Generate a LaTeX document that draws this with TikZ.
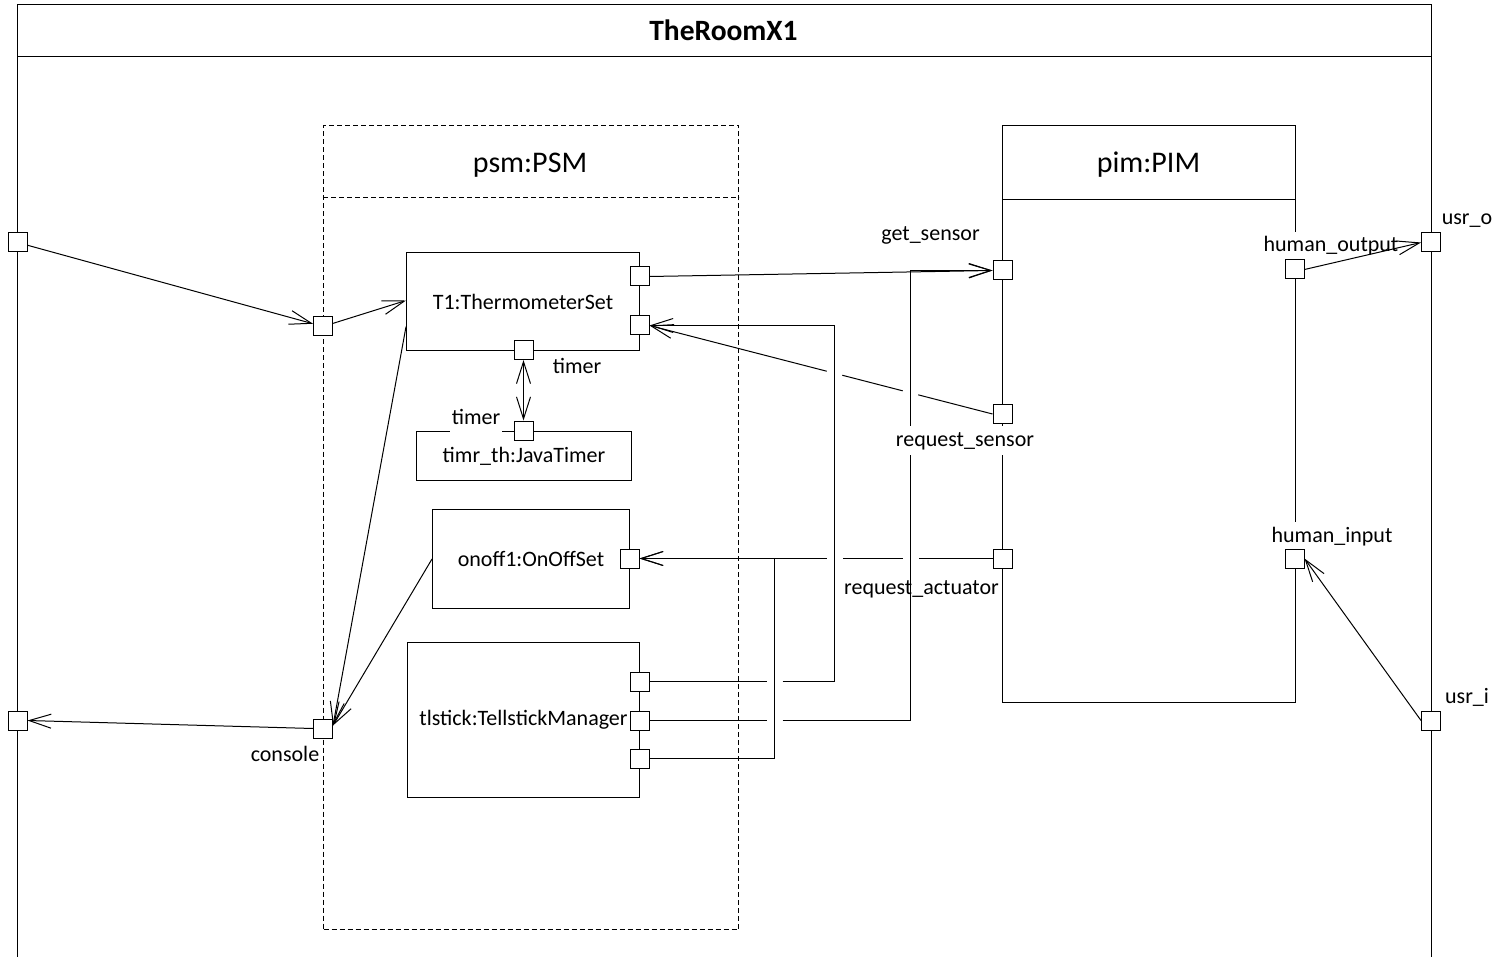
\documentclass[tikz,border=0pt]{standalone}
\usepackage{fontspec}
\setmainfont{Carlito}
\usetikzlibrary{arrows.meta,calc,intersections}

\tikzset{
  opentip/.tip={Straight Barb[length=22pt,width=14pt]},
  conn/.style={-opentip},
  dconn/.style={opentip-opentip},
  part/.style={draw, fill=white, inner sep=0pt, anchor=north west, font=\fontsize{22}{26}\selectfont},
  port/.style={draw, fill=white, inner sep=0pt, minimum size=19pt},
  lbl/.style={anchor=base, inner sep=0pt, font=\fontsize{22}{26}\selectfont},
  cover/.style={lbl, fill=white, inner xsep=1.5pt, inner ysep=2pt, text height=18pt, text depth=7pt},
  title/.style={anchor=base, inner sep=0pt, font=\fontsize{30}{34}\selectfont},
  psmline/.style={dash pattern=on 5pt off 3pt, line width=1pt},
}

\begin{document}
\begin{tikzpicture}[x=1pt, y=-1pt, line width=1pt]
\useasboundingbox (0,0) rectangle (1493,957);
\clip (0,0) rectangle (1493,957);

% enclosing component
\node[draw, inner sep=0pt, anchor=north west, minimum width=1414pt, minimum height=1000pt] (room) at (17,4) {};
\draw ($(room.north west)+(0,53)$) -- ($(room.north east)+(0,53)$);
\node[anchor=base, inner sep=0pt, font=\fontsize{29.5}{34}\selectfont\bfseries] (roomtitle) at (723.5,41) {TheRoomX1};

% platform specific part (dashed)
\node[draw, psmline, inner sep=0pt, anchor=north west, minimum width=415pt, minimum height=804pt] (psm) at (323,125) {};
\draw[psmline] ($(psm.north west)+(0,73)$) -- ($(psm.north east)+(0,73)$);
\node[title] (psmtitle) at (530,173) {psm:PSM};

% platform independent part
\node[draw, inner sep=0pt, anchor=north west, minimum width=293pt, minimum height=577pt] (pim) at (1002,125) {};
\draw ($(pim.north west)+(0,75)$) -- ($(pim.north east)+(0,75)$);
\node[title] (pimtitle) at (1148.5,173) {pim:PIM};

% inner parts
\node[part, minimum width=233pt, minimum height=98pt] (t1) at (406,252) {T1:ThermometerSet};
\node[part, minimum width=215pt, minimum height=49pt] (jt) at (416,431) {timr\_th:JavaTimer};
\node[part, minimum width=197pt, minimum height=99pt] (onoff) at (432,509) {onoff1:OnOffSet};
\node[part, minimum width=232pt, minimum height=155pt] (tl) at (407,642) {tlstick:TellstickManager};

% labels that hide the borders behind them
\node[cover] (lho) at (1331,252) {human\_output};
\node[cover] (lhi) at (1332,542) {human\_input};
\node[cover] (ltj) at (476,424) {timer};

% ports
\node[port] (op1) at (17.5,242.5) {};
\node[port] (op2) at (17.5,720.5) {};
\node[port] (pp1) at (323,326.5) {};
\node[port] (pcon) at (323,728.5) {};
\node[port] (t1o) at (639.5,276.5) {};
\node[port] (t1i) at (639.5,325.5) {};
\node[port] (t1t) at (523.5,350) {};
\node[port] (jtt) at (523.5,430.5) {};
\node[port] (onp) at (629.5,558.5) {};
\node[port] (tl1) at (639.5,681.5) {};
\node[port] (tl2) at (639.5,720.5) {};
\node[port] (tl3) at (639.5,758.5) {};
\node[port] (pgs) at (1002.5,270.5) {};
\node[port] (prs) at (1002.5,414) {};
\node[port] (pra) at (1002.5,558.5) {};
\node[port] (pho) at (1294.5,269.5) {};
\node[port] (phi) at (1294.5,558.5) {};
\node[port] (uo) at (1431,242.5) {};
\node[port] (ui) at (1431,720.5) {};

% helper points
\coordinate (t1in) at ($(t1.north west)!0.49!(t1.south west)$);
\coordinate (t1out) at ($(t1.north west)!0.755!(t1.south west)$);
\coordinate (conin) at ([yshift=3pt]pcon.east);
\coordinate (xa) at (774.5,0);
\coordinate (xb) at (834.5,0);
\coordinate (xc) at (910.5,0);

% crossings of the sensor request line
\path[name path=diag] (prs.west) -- (t1i.east);
\path[name path=vb] (xb) -- ++(0,1000);
\path[name path=vc] (xc) -- ++(0,1000);
\path[name intersections={of=diag and vb, by=ib}];
\path[name intersections={of=diag and vc, by=ic}];

% connectors
\draw[conn] (op1) -- (pp1);
\draw[conn] (pp1) -- (t1in);
\draw[conn] (t1out) -- (conin);
\draw[conn] (onoff.west) -- (conin);
\draw[conn] (pcon.west) -- (op2.east);
\draw[dconn] (t1t) -- (jtt);
\draw[conn] (t1o.east) -- (pgs.west);
\draw[conn] (prs.west) -- ($(ic)!8pt!(prs.west)$)
            ($(ic)!8pt!(t1i.east)$) -- ($(ib)!8pt!(prs.west)$)
            ($(ib)!8pt!(t1i.east)$) -- (t1i.east);
\draw[conn] (tl1.east) -- ([xshift=-8pt]tl1.east -| xa)
            ([xshift=8pt]tl1.east -| xa) -- (tl1.east -| xb) -- (t1i.east -| xb) -- (t1i.east);
\draw[conn] (tl2.east) -- ([xshift=-8pt]tl2.east -| xa)
            ([xshift=8pt]tl2.east -| xa) -- (tl2.east -| xc) -- (pgs.west -| xc) -- (pgs.west);
\draw[conn] (tl3.east) -- (tl3.east -| xa) -- (onp.east -| xa) -- (onp.east);
\draw[conn] (pra.west) -- ([xshift=8pt]pra.west -| xc)
            ([xshift=-8pt]pra.west -| xc) -- ([xshift=8pt]pra.west -| xb)
            ([xshift=-8pt]pra.west -| xb) -- (onp.east);
\draw[conn] (pho.east) -- (uo.west);
\draw[conn] (ui.west) -- (phi.east);

% port names
\node[cover] (lrs) at (965,446) {request\_sensor};
\node[lbl] (lgs) at (930.5,241) {get\_sensor};
\node[lbl] (lra) at (921.5,594) {request\_actuator};
\node[lbl] (luo) at (1467,225) {usr\_o};
\node[lbl] (lui) at (1467,703) {usr\_i};
\node[lbl] (lcon) at (285,761) {console};
\node[lbl] (ltt) at (577,373) {timer};
\end{tikzpicture}
\end{document}
